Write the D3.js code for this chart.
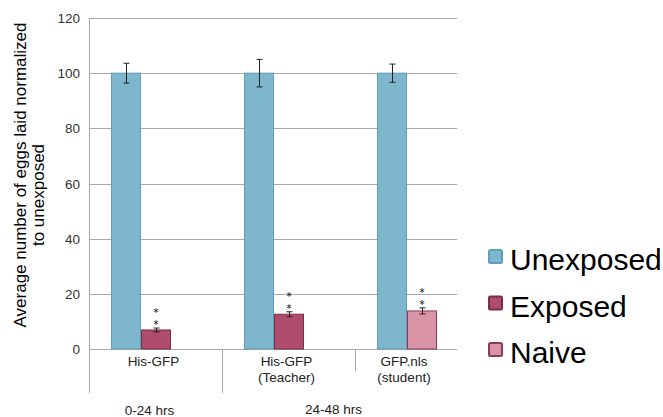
<!DOCTYPE html>
<html>
<head>
<meta charset="utf-8">
<script src="https://cdn.jsdelivr.net/npm/d3@7"></script>
<style>
  body { margin: 0; background: #fff; }
  text { font-family: "Liberation Sans", Arial, Helvetica, sans-serif; }
</style>
</head>
<body>
<div id="chart"></div>
<script>
// chart data
const categories   = ["His-GFP", "His-GFP\n(Teacher)", "GFP.nls\n(student)"]
const unexposed    = [100, 100, 100]
const unexposedErr = [3.6, 5.0, 3.3]
const treated      = [6.9, 12.6, 13.8]
const treatedErr   = [0.7, 0.9, 1.1]
const treatedKind  = ["Exposed", "Exposed", "Naive"]
const periods      = ["0-24 hrs", "24-48 hrs"]
const periodSpans  = [[0, 0], [1, 2]]     // first and last category of each period
const yTicks       = [0, 20, 40, 60, 80, 100, 120]
const seriesNames  = ["Unexposed", "Exposed", "Naive"]

const WIDTH = 663, HEIGHT = 417
const PLOT = {LEFT: 89, RIGHT: 457, TOP: 18, BOTTOM: 349}

const FILL   = {Unexposed: "#7eb7cd", Exposed: "#b04d6e", Naive: "#da93a7"}
const STROKE = {Unexposed: "#5f9fb8", Exposed: "#7b2c47", Naive: "#8b3a55"}

let svg = d3.select("#chart").append("svg")
    .attr("width", WIDTH)
    .attr("height", HEIGHT)

let yScale = d3.scaleLinear().domain([0, 120]).range([PLOT.BOTTOM, PLOT.TOP])

// one band per category, three bar slots inside each band
let xScale = d3.scaleBand().domain(d3.range(categories.length)).range([PLOT.LEFT, 488])
let slot = d3.scaleBand().domain([0, 1, 2]).range([22, 112])

// gridlines
svg.append("g").selectAll("line")
    .data(yTicks)
    .enter().append("line")
        .attr("x1", PLOT.LEFT).attr("x2", PLOT.RIGHT)
        .attr("y1", d => Math.round(yScale(d)) + 0.5)
        .attr("y2", d => Math.round(yScale(d)) + 0.5)
        .style("stroke", "#a9a9a9")

// y tick labels
svg.append("g").selectAll("text")
    .data(yTicks)
    .enter().append("text")
        .attr("x", 80)
        .attr("y", d => yScale(d) + 5)
        .attr("text-anchor", "end")
        .style("font-size", "13.5px")
        .style("fill", "#333")
        .text(d => d)

// y axis line (runs down past the category labels)
svg.append("line")
    .attr("x1", PLOT.LEFT + 0.5).attr("x2", PLOT.LEFT + 0.5)
    .attr("y1", PLOT.TOP).attr("y2", 393)
    .style("stroke", "#a9a9a9")

// category separators
svg.append("line")
    .attr("x1", xScale(1) + 0.5).attr("x2", xScale(1) + 0.5)
    .attr("y1", PLOT.BOTTOM).attr("y2", 393)
    .style("stroke", "#a9a9a9")
svg.append("line")
    .attr("x1", xScale(2) + 0.5).attr("x2", xScale(2) + 0.5)
    .attr("y1", PLOT.BOTTOM).attr("y2", 371)
    .style("stroke", "#a9a9a9")

// bars
const bars = []
categories.forEach((c, i) => {
    bars.push({cat: i, slot: 0, kind: "Unexposed", v: unexposed[i], err: unexposedErr[i]})
    bars.push({cat: i, slot: 1, kind: treatedKind[i], v: treated[i], err: treatedErr[i]})
})

svg.append("g").selectAll("rect")
    .data(bars)
    .enter().append("rect")
        .attr("x", d => xScale(d.cat) + slot(d.slot) + 0.5)
        .attr("y", d => yScale(d.v))
        .attr("width", slot.bandwidth() - 1)
        .attr("height", d => yScale(0) - yScale(d.v))
        .style("fill", d => FILL[d.kind])
        .style("stroke", d => STROKE[d.kind])
        .style("stroke-width", 1)

// error bars
let eb = svg.append("g").selectAll("g")
    .data(bars)
    .enter().append("g")
        .attr("transform", d => "translate(" + (Math.round(xScale(d.cat) + slot(d.slot) + slot.bandwidth() / 2) + 0.5) + ",0)")
        .style("stroke", "#222")
eb.append("line").attr("y1", d => yScale(d.v + d.err)).attr("y2", d => yScale(d.v - d.err))
eb.append("line").attr("x1", -3).attr("x2", 3).attr("y1", d => yScale(d.v + d.err)).attr("y2", d => yScale(d.v + d.err))
eb.append("line").attr("x1", -3).attr("x2", 3).attr("y1", d => yScale(d.v - d.err)).attr("y2", d => yScale(d.v - d.err))

// significance stars above treated bars
let stars = svg.append("g").selectAll("g")
    .data(bars.filter(d => d.slot == 1))
    .enter().append("g")
stars.selectAll("text")
    .data(d => [-12, 0].map(off => ({d: d, off: off})))
    .enter().append("text")
        .attr("x", p => xScale(p.d.cat) + slot(p.d.slot) + slot.bandwidth() / 2)
        .attr("y", p => yScale(p.d.v + p.d.err) + p.off)
        .attr("text-anchor", "middle")
        .style("font-family", "'DejaVu Sans', sans-serif")
        .style("font-size", "10px")
        .text("*")

// category labels (band centre, clipped to the plot's right edge)
const bandMid = i => (xScale(i) + Math.min(xScale(i) + xScale.bandwidth(), PLOT.RIGHT)) / 2
let catLabels = svg.append("g").selectAll("text")
    .data(categories)
    .enter().append("text")
        .attr("text-anchor", "middle")
        .style("font-size", "13.5px")
        .style("fill", "#222")
catLabels.selectAll("tspan")
    .data((d, i) => d.split("\n").map(s => ({s: s, i: i})))
    .enter().append("tspan")
        .attr("x", d => bandMid(d.i) - 2)
        .attr("y", (d, j) => 366 + j * 15.5)
        .text(d => d.s)

// period labels
svg.append("g").selectAll("text")
    .data(periods)
    .enter().append("text")
        .attr("x", (d, i) => (xScale(periodSpans[i][0]) + Math.min(xScale(periodSpans[i][1]) + xScale.bandwidth(), PLOT.RIGHT)) / 2 - 6)
        .attr("y", (d, i) => 414.5 - i * 1)
        .attr("text-anchor", "middle")
        .style("font-size", "13.5px")
        .style("fill", "#222")
        .text(d => d)

// y axis title
svg.append("text")
    .attr("transform", "translate(26,175) rotate(-90)")
    .attr("text-anchor", "middle")
    .style("font-size", "17px")
    .text("Average number of eggs laid normalized")
svg.append("text")
    .attr("transform", "translate(44,195) rotate(-90)")
    .attr("text-anchor", "middle")
    .style("font-size", "17px")
    .text("to unexposed")

// legend
let legend = svg.append("g").selectAll("g")
    .data(seriesNames)
    .enter().append("g")
        .attr("transform", (d, i) => "translate(488," + (270 + i * 46.5) + ")")
legend.append("rect")
    .attr("x", 1).attr("y", -20)
    .attr("width", 13).attr("height", 13)
    .attr("rx", 1.5)
    .style("fill", d => FILL[d])
    .style("stroke", d => STROKE[d])
    .style("stroke-width", 2)
legend.append("text")
    .attr("x", 22).attr("y", 0)
    .style("font-size", "30px")
    .style("fill", "#000")
    .text(d => d)
</script>
</body>
</html>
